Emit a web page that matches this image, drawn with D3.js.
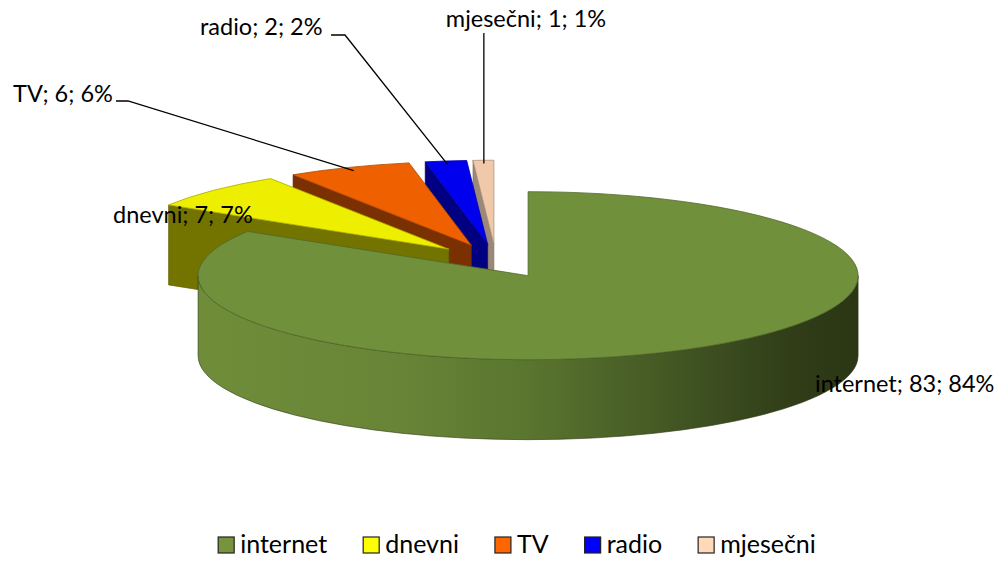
<!DOCTYPE html>
<html lang="hr">
<head>
<meta charset="UTF-8">
<title>Izvori informacija</title>
<style>
body { margin: 0; background: #fff; }
svg { display: block; }
text { font-family: Lato, "Open Sans", sans-serif; fill: #000; }
.label { font-size: 23.5px; }
.legend-text { font-size: 25px; }
.leader { stroke: #000; stroke-width: 1.3; fill: none; }
.legend-box { stroke: #222; stroke-width: 1.2; }
</style>
</head>
<body>
<div id="chart"></div>
<script src="https://cdn.jsdelivr.net/npm/d3@7"></script>
<script>
var categories = ["internet", "dnevni", "TV", "radio", "mjesečni"];
var values = [83, 7, 6, 2, 1];

var topColors = ["#71903b", "#eeee00", "#ee6000", "#0000ee", "#f0c8aa"];
var sideColors = ["#6d8b38", "#737300", "#7a3000", "#000080", "#9a8878"];
var legendColors = ["#77933c", "#ffff00", "#ff6600", "#0000ff", "#ffd9b8"];

// hand placed label boxes (as in the original), x/y of text baseline
var labelPos = [
    {x: 815, y: 392, anchor: "start", leader: null},
    {x: 113, y: 223, anchor: "start", leader: null},
    {x: 13,  y: 102, anchor: "start", leader: [[116, 101], [128, 101]]},
    {x: 200, y: 35,  anchor: "start", leader: [[331, 35], [345, 35]]},
    {x: 526, y: 27,  anchor: "middle", leader: "vertical"}
];

var width = 1008, height = 563;
var cx = 496, cy = 261, rx = 330, ry = 84, depth = 80, explode = 0.2;

var svg = d3.select("#chart").append("svg")
    .attr("width", width)
    .attr("height", height);

var defs = svg.append("defs");
var grad = defs.append("linearGradient")
    .attr("id", "wallGrad")
    .attr("gradientUnits", "userSpaceOnUse")
    .attr("x1", cx - rx + 30).attr("x2", cx + rx + 35)
    .attr("y1", 0).attr("y2", 0);
[[0, "#6f8d39"], [0.3, "#688537"], [0.5, "#5a752f"], [0.72, "#425623"], [0.9, "#303d18"], [1, "#2b3614"]]
    .forEach(function(s) {
        grad.append("stop").attr("offset", s[0]).attr("stop-color", s[1]);
    });

var total = d3.sum(values);
var arcs = d3.pie().sort(null).value(function(d) { return d; })(values);

arcs.forEach(function(a, i) {
    var m = (a.startAngle + a.endAngle) / 2;
    a.apex = [cx + explode * rx * Math.sin(m), cy - explode * ry * Math.cos(m)];
    a.mid = m;
    a.i = i;
});

function rim(a, o, z, k) {
    k = k || 1;
    return [o[0] + k * rx * Math.sin(a), o[1] - k * ry * Math.cos(a) + (z || 0)];
}
function down(p) { return [p[0], p[1] + depth]; }

function topPath(a) {
    var s = rim(a.startAngle, a.apex), e = rim(a.endAngle, a.apex);
    var large = (a.endAngle - a.startAngle) > Math.PI ? 1 : 0;
    return "M" + a.apex + "L" + s + "A" + rx + "," + ry + " 0 " + large + " 1 " + e + "Z";
}

function wallPath(a) {
    var a0 = Math.max(a.startAngle, Math.PI / 2), a1 = Math.min(a.endAngle, 3 * Math.PI / 2);
    if (a0 >= a1) return null;
    var p0 = rim(a0, a.apex), p1 = rim(a1, a.apex);
    var large = (a1 - a0) > Math.PI ? 1 : 0;
    return "M" + p0 + "A" + rx + "," + ry + " 0 " + large + " 1 " + p1 +
        "L" + down(p1) + "A" + rx + "," + ry + " 0 " + large + " 0 " + down(p0) + "Z";
}

function facePath(a, ang) {
    var p = rim(ang, a.apex);
    return "M" + a.apex + "L" + p + "L" + down(p) + "L" + down(a.apex) + "Z";
}

var pie = svg.append("g").attr("class", "pie");

// back slices first, internet last
arcs.slice().reverse().forEach(function(a) {
    var g = pie.append("g");
    var edge = d3.color(sideColors[a.i]).darker(0.7);
    if (a.startAngle > Math.PI && a.startAngle < 2 * Math.PI) {
        g.append("path").attr("d", facePath(a, a.startAngle))
            .attr("fill", sideColors[a.i]).attr("stroke", edge).attr("stroke-width", 0.6);
    }
    if (a.endAngle > 0 && a.endAngle < Math.PI) {
        g.append("path").attr("d", facePath(a, a.endAngle))
            .attr("fill", sideColors[a.i]).attr("stroke", edge).attr("stroke-width", 0.6);
    }
    var w = wallPath(a);
    if (w) {
        g.append("path").attr("d", w)
            .attr("fill", a.i === 0 ? "url(#wallGrad)" : sideColors[a.i])
            .attr("stroke", "#2a3413").attr("stroke-width", 0.6);
    }
    g.append("path").attr("d", topPath(a))
        .attr("fill", topColors[a.i])
        .attr("stroke", d3.color(topColors[a.i]).darker(0.9))
        .attr("stroke-width", 0.8);
});

// data labels
var labels = svg.append("g").attr("class", "labels");
arcs.forEach(function(a, i) {
    var lp = labelPos[i];
    var pct = Math.round(values[i] / total * 100);
    labels.append("text")
        .attr("class", "label")
        .attr("x", lp.x)
        .attr("y", lp.y)
        .attr("text-anchor", lp.anchor)
        .text(categories[i] + "; " + values[i] + "; " + pct + "%");
    if (lp.leader) {
        var end = rim(a.mid, a.apex, 0, 0.96);
        var pts;
        if (lp.leader === "vertical") {
            pts = [[end[0], lp.y + 6], end];
        } else {
            pts = lp.leader.concat([end]);
        }
        labels.append("path")
            .attr("class", "leader")
            .attr("d", d3.line()(pts));
    }
});

// legend
var legend = svg.append("g").attr("class", "legend");
var items = legend.selectAll("g.item")
    .data(categories)
    .enter().append("g").attr("class", "item");
items.append("rect")
    .attr("class", "legend-box")
    .attr("width", 16).attr("height", 16)
    .attr("y", -16)
    .attr("fill", function(d, i) { return legendColors[i]; });
items.append("text")
    .attr("class", "legend-text")
    .attr("x", 22)
    .attr("y", 0)
    .text(function(d) { return d; });

var xpos = 0, offsets = [];
items.each(function(d, i) {
    offsets.push(xpos);
    xpos += 22 + this.querySelector("text").getComputedTextLength() + 36;
});
var legendW = xpos - 36;
var lx = 517 - legendW / 2;
items.attr("transform", function(d, i) { return "translate(" + (lx + offsets[i]) + ",553)"; });
</script>
</body>
</html>
